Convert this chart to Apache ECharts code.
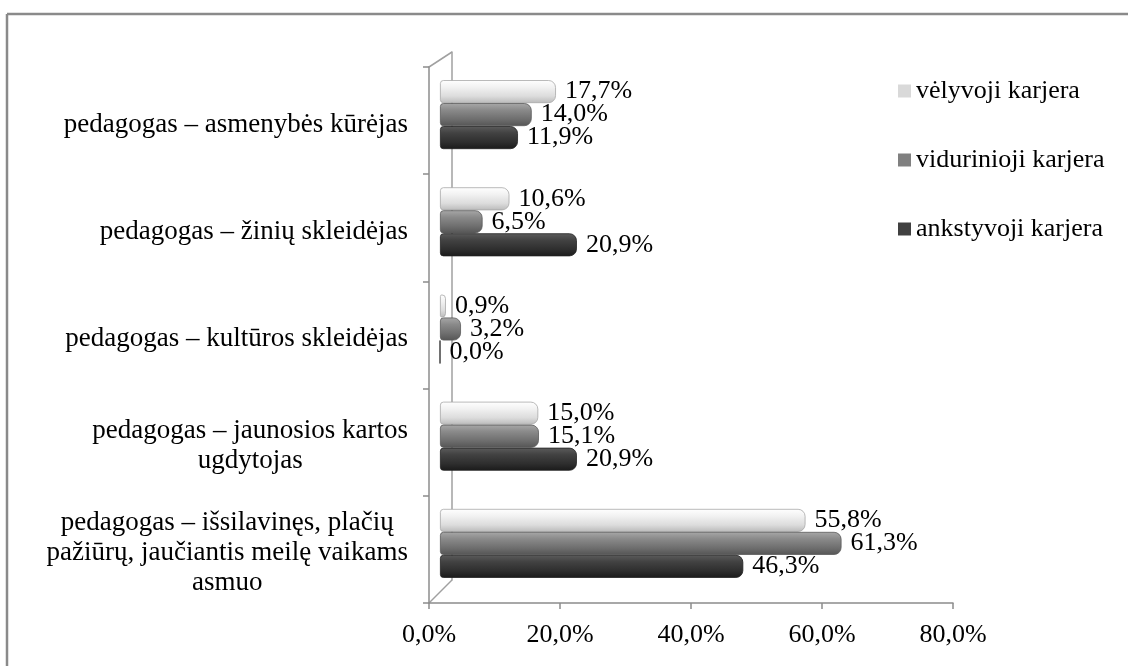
<!DOCTYPE html>
<html>
<head>
<meta charset="utf-8">
<script src="https://cdn.jsdelivr.net/npm/echarts@6/dist/echarts.min.js"></script>
<style>
html,body{margin:0;padding:0;background:#fff;}
#c{width:1128px;height:666px;}
</style>
</head>
<body>
<div id="c"></div>
<script>
// Categories listed bottom-to-top (ECharts category y axis starts at bottom)
var categories = [
  "pedagogas – išsilavinęs, plačių\npažiūrų, jaučiantis meilę vaikams\nasmuo",
  "pedagogas – jaunosios kartos\nugdytojas",
  "pedagogas – kultūros skleidėjas",
  "pedagogas – žinių skleidėjas",
  "pedagogas – asmenybės kūrėjas"
];
// Series listed top-to-bottom within each category
var seriesNames = ["vėlyvoji karjera", "vidurinioji karjera", "ankstyvoji karjera"];
var velyvoji = [55.8, 15.0, 0.9, 10.6, 17.7];
var vidurinioji = [61.3, 15.1, 3.2, 6.5, 14.0];
var ankstyvoji = [46.3, 20.9, 0.0, 20.9, 11.9];
var xTicks = [0, 20, 40, 60, 80];

var FONT = '"Liberation Serif", "Times New Roman", serif';
function fmt(v){ return v.toFixed(1).replace('.', ',') + '%'; }
function grad(c1, c2, c3, c4){
  return new echarts.graphic.LinearGradient(0,0,0,1,[
    {offset:0,color:c1},{offset:0.3,color:c2},{offset:0.7,color:c3},{offset:1,color:c4}
  ]);
}
var styles = [
  {color: grad('#ffffff','#f2f2f2','#dcdcdc','#bababa'), border:'#a8a8a8'},
  {color: grad('#a8a8a8','#8a8a8a','#6e6e6e','#555555'), border:'#5a5a5a'},
  {color: grad('#5c5c5c','#424242','#2e2e2e','#1a1a1a'), border:'#222'}
];
var legendColors = ['#d9d9d9', '#808080', '#404040'];
var dataSets = [velyvoji, vidurinioji, ankstyvoji];

var chart = echarts.init(document.getElementById('c'), null, {renderer:'canvas'});
var series = dataSets.map(function(d, i){
  return {
    name: seriesNames[i],
    type: 'bar',
    xAxisIndex: 1,
    yAxisIndex: 1,
    data: d,
    barWidth: 23,
    barGap: '0%',
    itemStyle: {color: styles[i].color, borderColor: styles[i].border, borderWidth: 0.8, borderRadius: [3,7,7,3]},
    label: {
      show: true, position: 'right', distance: 9,
      formatter: function(p){ return fmt(p.value); },
      fontFamily: FONT, fontSize: 26, color: '#000', padding: [5,0,0,0]
    }
  };
});

var option = {
  animation: false,
  backgroundColor: '#fff',
  textStyle: {fontFamily: FONT},
  legend: {
    orient: 'vertical',
    left: 893, top: 73,
    itemWidth: 13, itemHeight: 13, icon: 'rect',
    itemGap: 43,
    textStyle: {fontFamily: FONT, fontSize: 26, color: '#000'},
    data: seriesNames.map(function(n, i){ return {name: n, itemStyle: {color: legendColors[i], borderWidth: 0}}; })
  },
  grid: [
    {left: 429, top: 67, width: 524, height: 536, containLabel: false},
    {left: 440, top: 61, width: 524, height: 536, containLabel: false},
    {left: 452, top: 52, width: 10, height: 528, containLabel: false}
  ],
  xAxis: [
    {
      gridIndex: 0, type: 'value', min: xTicks[0], max: xTicks[xTicks.length-1], interval: 20,
      axisLine: {show: true, lineStyle: {color: '#8c8c8c', width: 1.5}},
      axisTick: {show: true, length: 6, lineStyle: {color: '#8c8c8c', width: 1.5}},
      splitLine: {show: false},
      axisLabel: {formatter: function(v){ return fmt(v); }, fontFamily: FONT, fontSize: 26, color: '#000', margin: 19}
    },
    {gridIndex: 1, type: 'value', min: xTicks[0], max: xTicks[xTicks.length-1], show: false},
    {gridIndex: 2, type: 'value', min: 0, max: 1, show: false}
  ],
  yAxis: [
    {
      gridIndex: 0, type: 'category', data: categories,
      axisLine: {show: true, lineStyle: {color: '#8c8c8c', width: 1.5}},
      axisTick: {show: true, length: 6, lineStyle: {color: '#8c8c8c', width: 1.5}},
      axisLabel: {
        margin: 21,
        padding: [8,0,0,0],
        formatter: function(v){ return v.split('\n').map(function(s){ return '{c|' + s + '}'; }).join('\n'); },
        rich: {c: {align: 'center', fontFamily: FONT, fontSize: 27, color: '#000', lineHeight: 30}}
      }
    },
    {gridIndex: 1, type: 'category', data: categories, show: false},
    {
      gridIndex: 2, type: 'value', min: 0, max: 1,
      axisLine: {show: true, onZero: false, lineStyle: {color: '#a0a0a0', width: 1.5}},
      axisTick: {show: false}, axisLabel: {show: false}, splitLine: {show: false}
    }
  ],
  series: series,
  graphic: [
    {type: 'line', shape: {x1: 7, y1: 14, x2: 1128, y2: 14}, style: {stroke: '#8a8a8a', lineWidth: 2.5}},
    {type: 'line', shape: {x1: 7, y1: 14, x2: 7, y2: 666}, style: {stroke: '#8a8a8a', lineWidth: 2.5}},
    {type: 'line', shape: {x1: 429, y1: 67, x2: 452, y2: 52}, style: {stroke: '#a0a0a0', lineWidth: 1.5}},
    {type: 'line', shape: {x1: 429, y1: 603, x2: 452, y2: 580}, style: {stroke: '#a0a0a0', lineWidth: 1.5}}
  ]
};
chart.setOption(option);
</script>
</body>
</html>
